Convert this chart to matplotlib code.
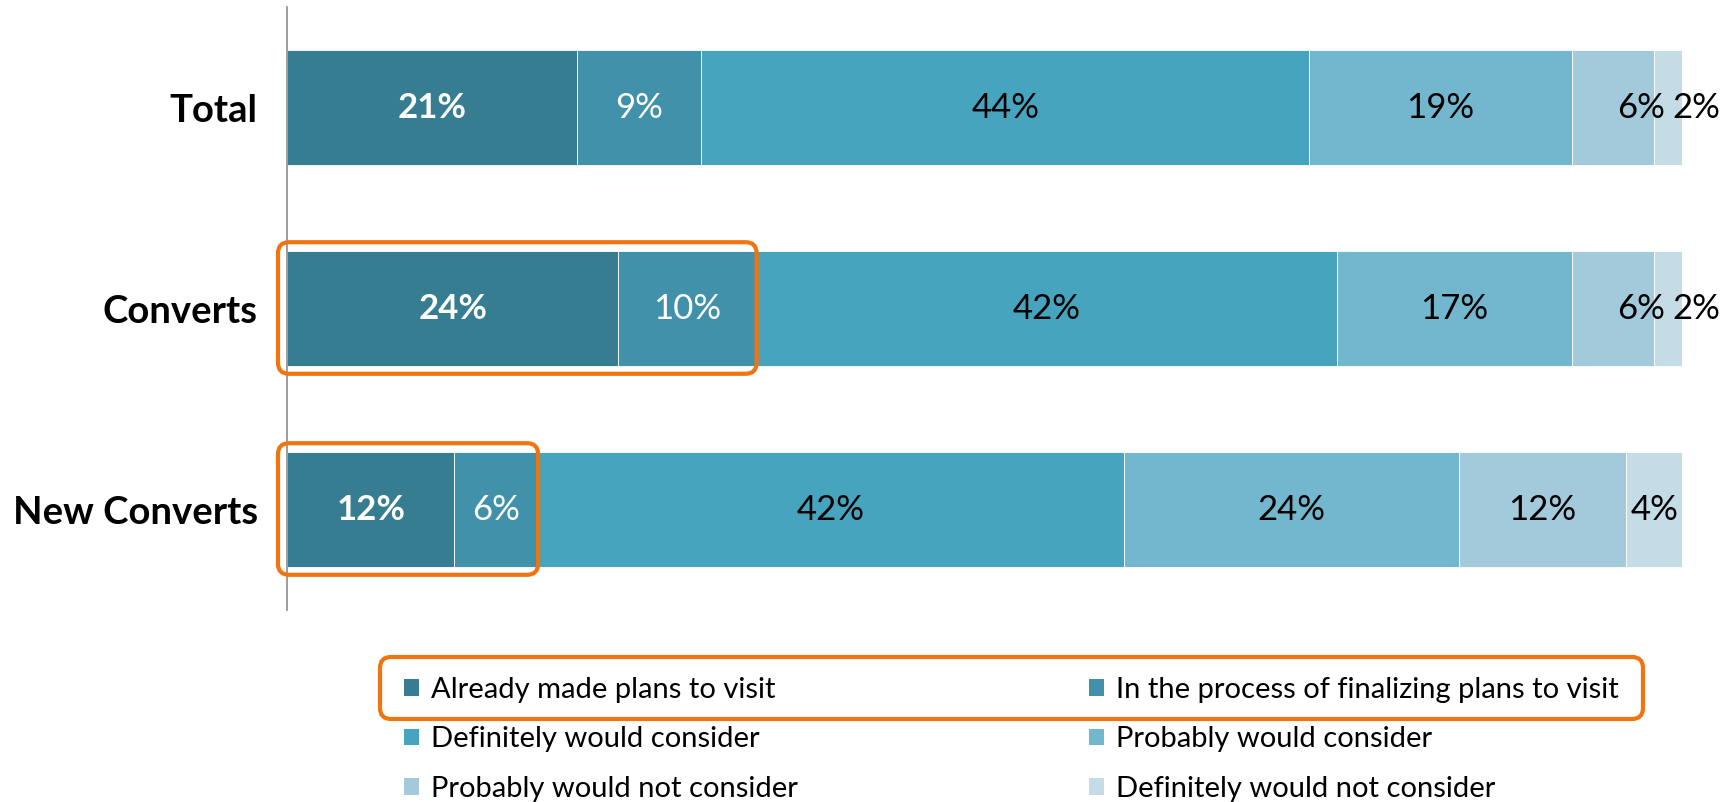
import numpy as np
import matplotlib.pyplot as plt
from matplotlib.patches import FancyBboxPatch, Patch
from matplotlib.transforms import IdentityTransform

plt.rcParams['font.family'] = ['Lato', 'DejaVu Sans']

groups = ['Total', 'Converts', 'New Converts']
answers = ['Already made plans to visit',
           'In the process of finalizing plans to visit',
           'Definitely would consider',
           'Probably would consider',
           'Probably would not consider',
           'Definitely would not consider']
# percentages per group, one list per answer
already = [21, 24, 12]
finalizing = [9, 10, 6]
def_consider = [44, 42, 42]
prob_consider = [19, 17, 24]
prob_not = [6, 6, 12]
def_not = [2, 2, 4]

colors = ['#367D91', '#4191AA', '#47A4BF', '#72B7CE', '#A3CADA', '#C3DCE5']
orange = '#F07410'

vals = np.array([already, finalizing, def_consider, prob_consider, prob_not, def_not], dtype=float)
# 100% stacked: scale each group to its total
shares = vals / vals.sum(axis=0) * 100

fig = plt.figure(figsize=(17.29, 8.02), dpi=100)
ax = fig.add_axes([287 / 1729, 1 - 610 / 802, (1682 - 287) / 1729, 603 / 802])

y = np.arange(len(groups))
left = np.zeros(len(groups))
for i, name in enumerate(answers):
    ax.barh(y, shares[i], left=left, height=0.57, color=colors[i],
            edgecolor='white', linewidth=0.6, label=name)
    for j in range(len(groups)):
        cx = left[j] + shares[i, j] / 2
        # small tail segments: push the last two labels right so they don't collide
        if def_not[j] < 3 and i >= 4:
            cx += 2.0
        txt_color = 'white' if i < 2 else 'black'
        weight = 'bold' if i == 0 else 'normal'
        ax.text(cx, y[j], f'{vals[i, j]:.0f}%', ha='center', va='center',
                color=txt_color, fontsize=25, fontweight=weight)
    left += shares[i]

ax.set_xlim(0, 100)
ax.set_ylim(2.5, -0.5)
ax.set_yticks(y)
ax.set_yticklabels(groups, fontsize=27.5, fontweight='bold')
ax.tick_params(axis='y', length=0, pad=21)
ax.set_xticks([])
for s in ['top', 'right', 'bottom']:
    ax.spines[s].set_visible(False)
ax.spines['left'].set_color('#8C8C8C')
ax.spines['left'].set_linewidth(1.2)

# orange highlight around the first two segments of the converts rows
fig.canvas.draw()
for j in [1, 2]:
    x1 = shares[0, j] + shares[1, j]
    (px0, py0) = ax.transData.transform((0, y[j] + 0.285))
    (px1, py1) = ax.transData.transform((x1, y[j] - 0.285))
    box = FancyBboxPatch((px0 - 9, py0 - 8), px1 - px0 + 9, py1 - py0 + 17,
                         boxstyle='round,pad=0,rounding_size=11',
                         transform=IdentityTransform(), fill=False,
                         edgecolor=orange, linewidth=3)
    fig.patches.append(box)

# legend: two columns, filled row by row
order = [0, 2, 4, 1, 3, 5]
handles = [Patch(facecolor=colors[k], edgecolor='none') for k in order]
labels = [answers[k] for k in order]
leg = fig.legend(handles, labels, ncol=2, loc='upper left',
                 bbox_to_anchor=(404 / 1729, 1 - 677 / 802), frameon=False,
                 fontsize=21, handlelength=0.5, handleheight=0.5,
                 handletextpad=0.42, columnspacing=10.0, labelspacing=0.8,
                 borderpad=0, borderaxespad=0)

hl = FancyBboxPatch((380, 802 - 719), 1643 - 380, 719 - 657,
                    boxstyle='round,pad=0,rounding_size=11',
                    transform=IdentityTransform(), fill=False,
                    edgecolor=orange, linewidth=3)
fig.patches.append(hl)

fig.savefig('out.png', dpi=100)
